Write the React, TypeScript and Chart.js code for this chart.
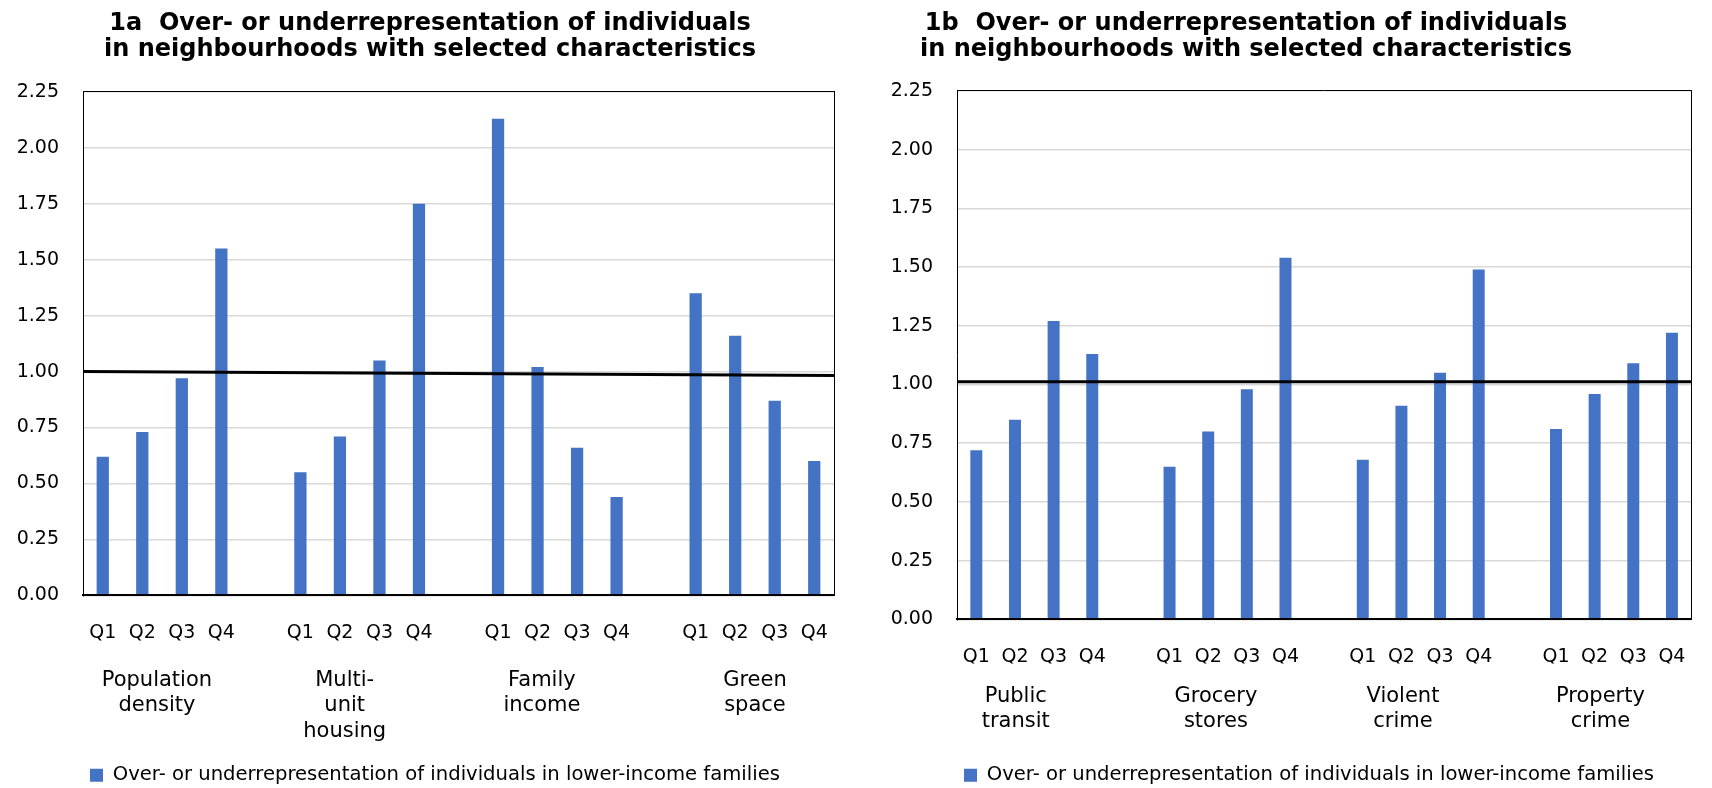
import React, { useEffect, useRef } from 'react';
import { Chart, registerables } from 'chart.js';

Chart.register(...registerables);

// ---------- data ----------
const qLabels = ['Q1', 'Q2', 'Q3', 'Q4'];

const titleA = ['1a  Over- or underrepresentation of individuals', 'in neighbourhoods with selected characteristics'];
const titleB = ['1b  Over- or underrepresentation of individuals', 'in neighbourhoods with selected characteristics'];

const seriesLabel = 'Over- or underrepresentation of individuals in lower-income families';

const groupsA = [['Population', 'density'], ['Multi-', 'unit', 'housing'], ['Family', 'income'], ['Green', 'space']];
const popDensity = [0.62, 0.73, 0.97, 1.55];
const multiUnitHousing = [0.55, 0.71, 1.05, 1.75];
const familyIncome = [2.13, 1.02, 0.66, 0.44];
const greenSpace = [1.35, 1.16, 0.87, 0.6];
const refLineA = [1.0, 0.983];

const groupsB = [['Public', 'transit'], ['Grocery', 'stores'], ['Violent', 'crime'], ['Property', 'crime']];
const publicTransit = [0.72, 0.85, 1.27, 1.13];
const groceryStores = [0.65, 0.8, 0.98, 1.54];
const violentCrime = [0.68, 0.91, 1.05, 1.49];
const propertyCrime = [0.81, 0.96, 1.09, 1.22];
const refLineB = [1.012, 1.012];

const yTicks = [0, 0.25, 0.5, 0.75, 1, 1.25, 1.5, 1.75, 2, 2.25];

// layout: where (in category units) each group caption is centred
const groupPosA = [1.37, 6.12, 11.11, 16.5];
const groupPosB = [1.02, 6.2, 11.04, 16.15];

// ---------- helpers ----------
function buildLabels(nGroups: number): string[] {
  const out: string[] = [];
  for (let g = 0; g < nGroups; g++) {
    if (g > 0) out.push('');
    out.push(...qLabels);
  }
  return out;
}
function buildValues(groups: number[][]): (number | null)[] {
  const out: (number | null)[] = [];
  groups.forEach((vals, g) => {
    if (g > 0) out.push(null);
    out.push(...vals);
  });
  return out;
}

type PanelProps = {
  left: number;
  width: number;
  height: number;
  title: string[];
  groupNames: string[][];
  groupPos: number[];
  values: number[][];
  refLine: number[];
  padLeft: number;
  padRight: number;
  yWidth: number;
  yRWidth: number;
  titleBottom: number;
  qHeight: number;
  groupHeight: number;
  groupPad: number;
};

function Panel(p: PanelProps) {
  const ref = useRef<HTMLCanvasElement | null>(null);
  useEffect(() => {
    if (!ref.current) return;
    const labels = buildLabels(p.values.length);
    const data = buildValues(p.values);
    const fontFamily = "'DejaVu Sans', sans-serif";
    const chart = new Chart(ref.current, {
      type: 'bar',
      data: {
        labels,
        datasets: [
          {
            type: 'bar',
            label: seriesLabel,
            data,
            backgroundColor: '#4472C4',
            borderWidth: 0,
            grouped: false,
            barPercentage: 0.31,
            categoryPercentage: 1,
            xAxisID: 'x',
            yAxisID: 'y',
            order: 2,
          } as any,
          {
            type: 'line',
            label: 'ref',
            data: [
              { x: 0, y: p.refLine[0] },
              { x: 1, y: p.refLine[1] },
            ],
            borderColor: '#000000',
            borderWidth: 3,
            pointRadius: 0,
            fill: false,
            xAxisID: 'xLine',
            yAxisID: 'y',
            order: 1,
          } as any,
        ],
      },
      options: {
        responsive: false,
        animation: false,
        devicePixelRatio: 1,
        layout: { padding: { left: p.padLeft, right: p.padRight, top: 0, bottom: 0 } },
        font: { family: fontFamily },
        plugins: {
          title: {
            display: true,
            text: p.title,
            color: '#000',
            font: { family: fontFamily, size: 24, weight: 'bold', lineHeight: 1.08 },
            padding: { top: 11, bottom: p.titleBottom },
          },
          legend: {
            display: true,
            position: 'bottom',
            align: 'start',
            fullSize: false,
            labels: {
              color: '#000',
              font: { family: fontFamily, size: 19.6 },
              boxWidth: 13,
              boxHeight: 13,
              padding: 7,
              filter: (item: any) => item.datasetIndex === 0,
            },
          },
          tooltip: { enabled: false },
        },
        scales: {
          x: {
            type: 'category',
            position: 'bottom',
            weight: 0,
            offset: true,
            grid: { display: false, drawTicks: false },
            border: { display: true, color: '#000', width: 2, z: 1 },
            ticks: {
              color: '#000',
              font: { family: fontFamily, size: 19 },
              padding: 26,
              autoSkip: false,
              maxRotation: 0,
            },
            afterFit: (s: any) => {
              s.height = p.qHeight;
            },
          },
          xG: {
            type: 'linear',
            position: 'bottom',
            weight: 1,
            offset: false,
            min: -0.5,
            max: labels.length - 0.5,
            grid: { display: false, drawTicks: false, offset: false },
            border: { display: false },
            afterBuildTicks: (s: any) => {
              s.ticks = p.groupPos.map((v) => ({ value: v }));
            },
            ticks: {
              color: '#000',
              font: { family: fontFamily, size: 21, lineHeight: 1.22 },
              padding: p.groupPad,
              autoSkip: false,
              maxRotation: 0,
              callback: (_v: any, i: number) => p.groupNames[i],
            },
            afterFit: (s: any) => {
              s.height = p.groupHeight;
            },
          },
          xLine: {
            type: 'linear',
            position: 'top',
            offset: false,
            min: 0,
            max: 1,
            grid: { display: false, drawTicks: false, offset: false },
            border: { display: true, color: '#000', width: 1, z: 1 },
            ticks: { display: false },
            afterFit: (s: any) => {
              s.height = 0;
            },
          },
          y: {
            type: 'linear',
            position: 'left',
            min: 0,
            max: 2.25,
            afterBuildTicks: (s: any) => {
              s.ticks = yTicks.map((v) => ({ value: v }));
            },
            grid: { display: true, color: '#d9d9d9', lineWidth: 1.5, drawTicks: false },
            border: { display: true, color: '#000', width: 1, z: 1 },
            ticks: {
              color: '#000',
              font: { family: fontFamily, size: 19 },
              padding: 24,
              callback: (v: any) => Number(v).toFixed(2),
            },
            afterFit: (s: any) => {
              s.width = p.yWidth;
            },
          },
          yR: {
            type: 'linear',
            position: 'right',
            min: 0,
            max: 2.25,
            grid: { display: false, drawTicks: false },
            border: { display: true, color: '#000', width: 1, z: 1 },
            ticks: { display: false },
            afterFit: (s: any) => {
              s.width = p.yRWidth;
            },
          },
        },
      } as any,
    });
    return () => chart.destroy();
  }, []);
  return (
    <div style={{ position: 'absolute', left: p.left, top: 0, width: p.width, height: p.height }}>
      <canvas ref={ref} width={p.width} height={p.height} style={{ width: p.width, height: p.height, display: 'block' }} />
    </div>
  );
}

export default function App() {
  return (
    <div
      style={{
        position: 'fixed',
        left: 0,
        top: 0,
        width: 1712,
        height: 788,
        overflow: 'hidden',
        background: '#ffffff',
      }}
    >
      <Panel
        left={0}
        width={860}
        height={795}
        title={titleA}
        groupNames={groupsA}
        groupPos={groupPosA}
        values={[popDensity, multiUnitHousing, familyIncome, greenSpace]}
        refLine={refLineA}
        padLeft={0}
        padRight={0}
        yWidth={83}
        yRWidth={26}
        titleBottom={29}
        qHeight={50}
        groupHeight={113}
        groupPad={22}
      />
      <Panel
        left={780}
        width={932}
        height={795}
        title={titleB}
        groupNames={groupsB}
        groupPos={groupPosB}
        values={[publicTransit, groceryStores, violentCrime, propertyCrime]}
        refLine={refLineB}
        padLeft={3}
        padRight={3}
        yWidth={174}
        yRWidth={0}
        titleBottom={28}
        qHeight={44}
        groupHeight={95}
        groupPad={20}
      />
    </div>
  );
}
